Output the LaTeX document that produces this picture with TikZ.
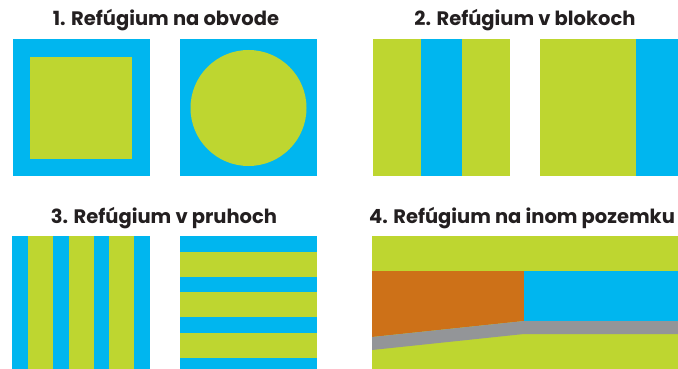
\documentclass[tikz,border=0pt]{standalone}
\usepackage{fontspec}
\setmainfont{Poppins}
\usepackage{xcolor}
\definecolor{refgreen}{HTML}{BED630}
\definecolor{refblue}{HTML}{00B6EF}
\definecolor{reforange}{HTML}{CD7118}
\definecolor{refgray}{HTML}{939598}
\definecolor{ttlgray}{HTML}{231F20}

\begin{document}
\begin{tikzpicture}[
  x=1pt, y=-1pt,
  ttl/.style={font=\fontsize{19.5}{22}\selectfont\bfseries, text=ttlgray, anchor=base, inner sep=0pt},
  grn/.style={fill=refgreen},
  blu/.style={fill=refblue},
  org/.style={fill=reforange},
  gry/.style={fill=refgray}
]
\useasboundingbox (0,0) rectangle (678,369);

% ── 1. perimeter ──
\node[ttl] (t1) at (166,25.5) {1. Refúgium na obvode};
\fill[blu] (13,39) rectangle (150,176);
\fill[grn] (30,57) rectangle (132,159);
\fill[blu] (180,39) rectangle (317,176);
\fill[grn] (248.5,108) circle[radius=58pt];

% ── 2. blocks ──
\node[ttl] (t2) at (525,25.5) {2. Refúgium v blokoch};
\fill[grn] (373,39) rectangle (510,176);
\fill[blu] (421,39) rectangle (462,176);
\fill[grn] (540,39) rectangle (678,176);
\fill[blu] (636,39) rectangle (678,176);

% ── 3. strips ──
\node[ttl] (t3) at (164,223.5) {3. Refúgium v pruhoch};
\fill[blu] (12,236) rectangle (150,369);
\foreach \sx in {28,69,109}
  \fill[grn] (\sx,236) rectangle ++(25,133);
\fill[blu] (180,236) rectangle (317,369);
\foreach \sy in {252,292,333}
  \fill[grn] (180,\sy) rectangle ++(137,24.5);

% ── 4. other field ──
\node[ttl] (t4) at (522,223.5) {4. Refúgium na inom pozemku};
\fill[grn] (372,236) rectangle (678,369);
\fill[org] (372,271) -- (524,271) -- (524,321) -- (372,337) -- cycle;
\fill[blu] (524,271) rectangle (678,321);
\fill[gry] (372,337) -- (524,321) -- (678,321) -- (678,334) -- (524,334) -- (372,350) -- cycle;

\end{tikzpicture}
\end{document}
